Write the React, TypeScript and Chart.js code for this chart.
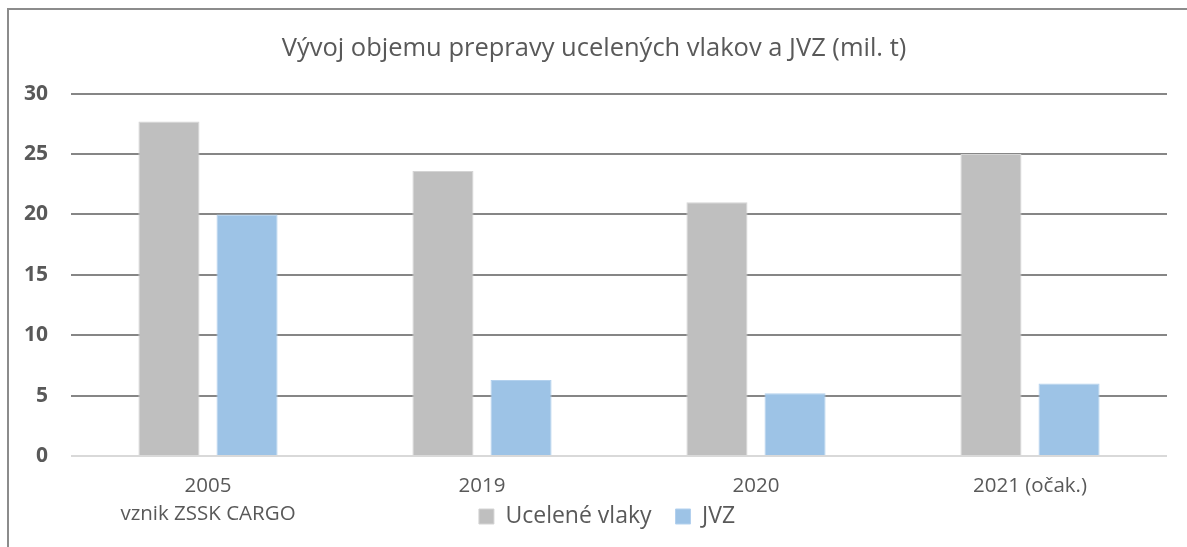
import React, { useEffect, useRef } from "react";
import { Chart, registerables } from "chart.js";

Chart.register(...registerables);

const categories: (string | string[])[] = [
  ["2005", "vznik ZSSK CARGO"],
  "2019",
  "2020",
  "2021 (očak.)",
];
const uceleneVlaky = [27.7, 23.6, 21.0, 25.0];
const jvz = [20.0, 6.3, 5.2, 6.0];
const seriesNames = ["Ucelené vlaky", "JVZ"];
const yTicks = { min: 0, max: 30, step: 5 };
const titleText = "Vývoj objemu prepravy ucelených vlakov a JVZ (mil. t)";

const FONT = "'Open Sans', sans-serif";
const TEXT = "#595959";

const boxShift = {
  id: "boxShift",
  afterLayout(chart: any) {
    const lg = chart.legend;
    if (lg) {
      const dx = 19;
      const dy = -9;
      lg.left += dx;
      lg.right += dx;
      lg.top += dy;
      lg.bottom += dy;
    }
    const tb = chart.titleBlock;
    if (tb) {
      tb.left += 6;
      tb.right += 6;
    }
  },
};

export default function App() {
  const ref = useRef<HTMLCanvasElement | null>(null);
  useEffect(() => {
    if (!ref.current) return;
    const chart = new Chart(ref.current, {
      type: "bar",
      data: {
        labels: categories as any,
        datasets: [
          {
            label: seriesNames[0],
            data: uceleneVlaky,
            backgroundColor: "#bfbfbf",
            borderColor: "#d4d4d4",
            borderWidth: 1,
            barPercentage: 0.782,
            categoryPercentage: 0.57,
          },
          {
            label: seriesNames[1],
            data: jvz,
            backgroundColor: "#9dc3e6",
            borderColor: "#b3d1ee",
            borderWidth: 1,
            barPercentage: 0.782,
            categoryPercentage: 0.57,
          },
        ],
      },
      options: {
        animation: false,
        responsive: true,
        maintainAspectRatio: false,
        layout: { padding: { top: 13, left: 0, right: 20, bottom: 0 } },
        plugins: {
          title: {
            display: true,
            text: titleText,
            color: TEXT,
            font: { family: FONT, size: 25.5, weight: "normal" },
            padding: { top: 10, bottom: 30 },
          },
          legend: {
            display: true,
            position: "bottom",
            labels: {
              color: TEXT,
              font: { family: FONT, size: 23 },
              boxWidth: 15,
              boxHeight: 15,
              padding: 24,
            },
          },
          tooltip: { enabled: false },
        },
        scales: {
          x: {
            grid: { display: false, drawTicks: false },
            border: { display: false },
            ticks: {
              color: TEXT,
              font: { family: FONT, size: 20.5, lineHeight: 1.33 },
              padding: 17,
              maxRotation: 0,
              autoSkip: false,
            },
            afterFit: (scale: any) => {
              scale.height = 34;
              scale._computeLabelArea = () => undefined;
            },
          },
          y: {
            min: yTicks.min,
            max: yTicks.max,
            grid: {
              drawTicks: false,
              lineWidth: 2,
              color: (ctx: any) => (ctx.tick && ctx.tick.value === 0 ? "#d9d9d9" : "#868686"),
            },
            border: { display: false },
            ticks: {
              stepSize: yTicks.step,
              color: TEXT,
              font: { family: FONT, size: 21, weight: "bold" },
              padding: 23,
            },
            afterFit: (scale: any) => {
              scale.width = 62;
            },
          },
        },
      },
      plugins: [boxShift],
    });
    return () => chart.destroy();
  }, []);

  return (
    <div
      style={{
        position: "absolute",
        left: 7,
        top: 8,
        width: 1180,
        height: 539,
        boxSizing: "border-box",
        borderTop: "2px solid #8c8c8c",
        borderLeft: "2px solid #8c8c8c",
        background: "#fff",
      }}
    >
      <div style={{ position: "relative", width: 1178, height: 537 }}>
        <canvas ref={ref} />
      </div>
    </div>
  );
}
